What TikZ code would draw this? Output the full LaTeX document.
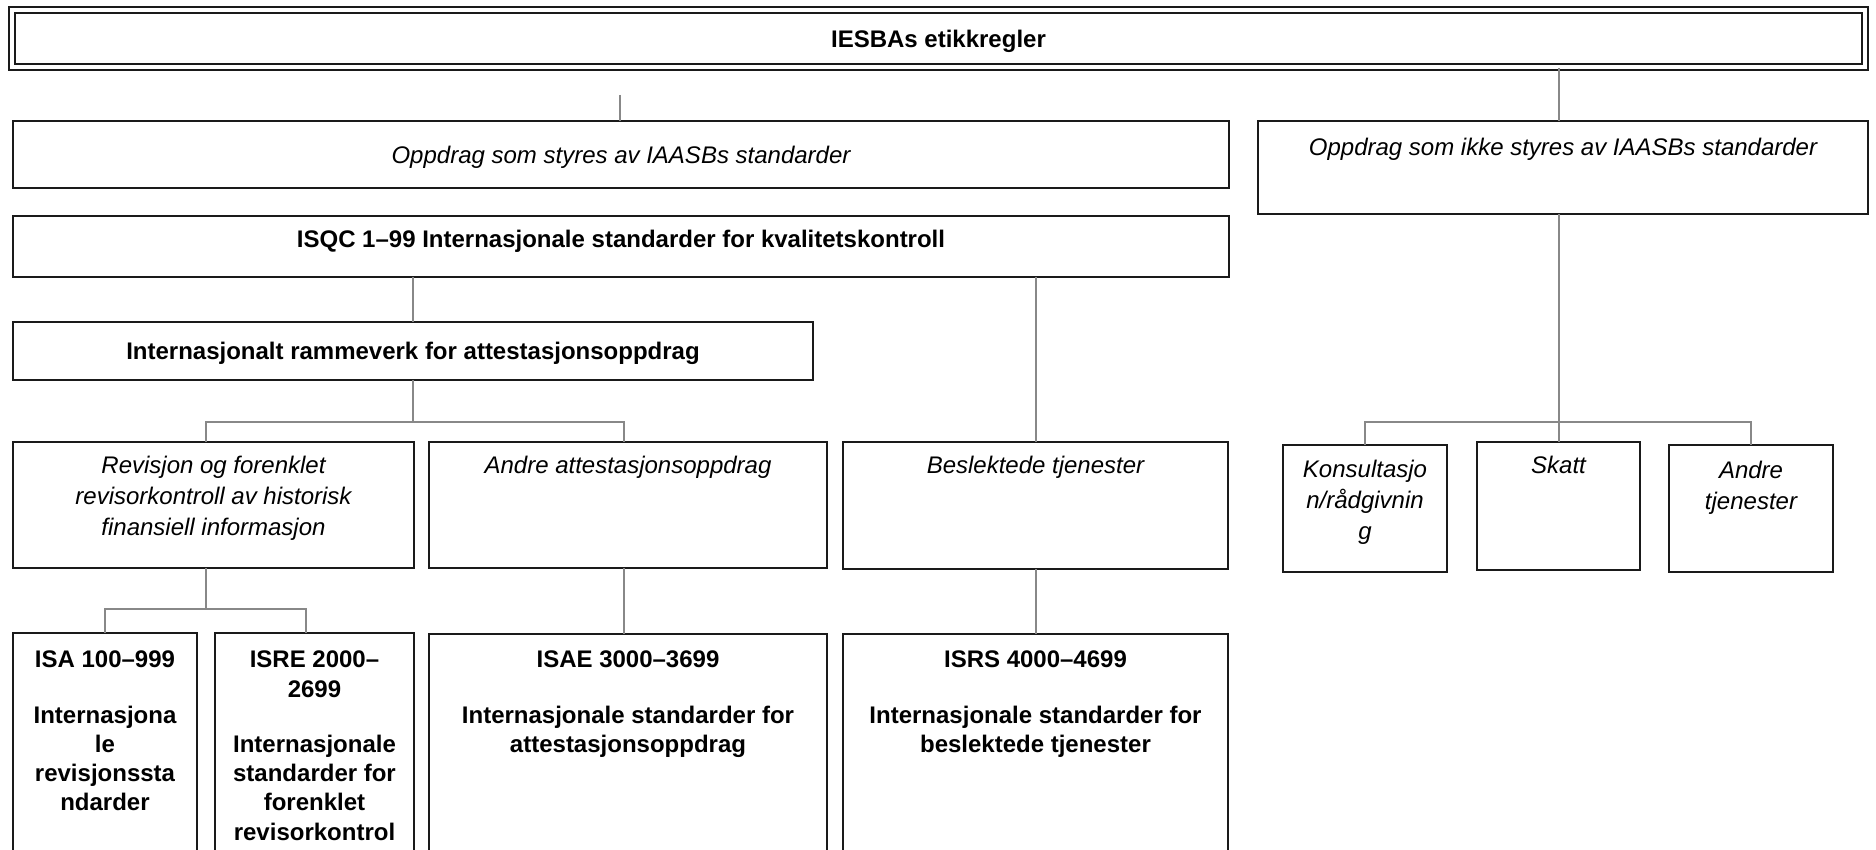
\documentclass[tikz,border=0pt]{standalone}
\usepackage{fontspec}
\setmainfont{Liberation Sans}
\definecolor{conngray}{RGB}{136,136,136}
\definecolor{boxblack}{RGB}{26,26,26}
\tikzset{
  box/.style={draw=boxblack, line width=2.2pt, rectangle, inner sep=0pt, outer sep=0pt},
  conn/.style={draw=conngray, line width=2pt},
  itxt/.style={font=\fontsize{24}{31}\selectfont\itshape, align=center, inner sep=0pt},
  btxt/.style={font=\fontsize{24}{29.3}\selectfont\bfseries, align=center, inner sep=0pt},
}
\begin{document}
\begin{tikzpicture}[x=1pt,y=-1pt]
\useasboundingbox (0,0) rectangle (1876,850);
\clip (0,0) rectangle (1876,850);
% top box
\node[draw=boxblack, double, double distance=3.6pt, line width=2.2pt, minimum width=1853pt, minimum height=57pt, inner sep=0pt] (top) at (938.5,38.5) {};
% boxes
\node[box, minimum width=1216pt, minimum height=67pt] (b1) at (621,154.5) {};
\node[box, minimum width=610pt, minimum height=93pt] (b2) at (1563,167.5) {};
\node[box, minimum width=1216pt, minimum height=61pt] (b3) at (621,246.5) {};
\node[box, minimum width=800pt, minimum height=58pt] (b4) at (413,351) {};
\node[box, minimum width=401pt, minimum height=126pt] (b5) at (213.5,505) {};
\node[box, minimum width=398pt, minimum height=126pt] (b6) at (628,505) {};
\node[box, minimum width=385pt, minimum height=127pt] (b7) at (1035.5,505.5) {};
\node[box, minimum width=164pt, minimum height=127pt] (b8) at (1365,508.5) {};
\node[box, minimum width=163pt, minimum height=128pt] (b9) at (1558.5,506) {};
\node[box, minimum width=164pt, minimum height=127pt] (b10) at (1751,508.5) {};
\node[box, minimum width=184pt, minimum height=267pt] (b11) at (105,766.5) {};
\node[box, minimum width=199pt, minimum height=267pt] (b12) at (314.5,766.5) {};
\node[box, minimum width=398pt, minimum height=266pt] (b13) at (628,767) {};
\node[box, minimum width=385pt, minimum height=266pt] (b14) at (1035.5,767) {};
% texts
\node[btxt, anchor=north] (t0) at (938.5,30) {IESBAs etikkregler};
\node[itxt, anchor=north] (t1) at (621,146) {Oppdrag som styres av IAASBs standarder};
\node[itxt, anchor=north] (t2) at (1563,138) {Oppdrag som ikke styres av IAASBs standarder};
\node[btxt, anchor=north] (t3) at (621,230) {ISQC 1--99 Internasjonale standarder for kvalitetskontroll};
\node[btxt, anchor=north] (t4) at (413,342) {Internasjonalt rammeverk for attestasjonsoppdrag};
\node[itxt, anchor=north] (t5) at (213.5,456) {Revisjon og forenklet\\revisorkontroll av historisk\\finansiell informasjon};
\node[itxt, anchor=north] (t6) at (628,456) {Andre attestasjonsoppdrag};
\node[itxt, anchor=north] (t7) at (1035.5,456) {Beslektede tjenester};
\node[itxt, anchor=north] (t8) at (1365,460) {Konsultasjo\\n/rådgivnin\\g};
\node[itxt, anchor=north] (t9) at (1558.5,456) {Skatt};
\node[itxt, anchor=north] (t10) at (1751,461) {Andre\\tjenester};
\node[btxt, anchor=north] (t11) at (105,651) {ISA 100--999\\~\\[-3.5pt]Internasjona\\le\\revisjonssta\\ndarder};
\node[btxt, anchor=north] (t12) at (314.5,651) {ISRE 2000--\\2699\\~\\[-3.5pt]Internasjonale\\standarder for\\forenklet\\revisorkontrol};
\node[btxt, anchor=north] (t13) at (628,651) {ISAE 3000--3699\\~\\[-3.5pt]Internasjonale standarder for\\attestasjonsoppdrag};
\node[btxt, anchor=north] (t14) at (1035.5,651) {ISRS 4000--4699\\~\\[-3.5pt]Internasjonale standarder for\\beslektede tjenester};
% connector helpers
\coordinate (c0) at (620,95);
\coordinate (h1) at (1558.5,422);
\coordinate (h2) at (413,422);
\coordinate (h3) at (206,609);
% connectors
\draw[conn] (c0) -- (c0 |- b1.north);
\draw[conn] (top.south -| b9.north) -- (b2.north -| b9.north);
\draw[conn] (b2.south -| b9.north) -- (b9.north);
\draw[conn] (b8.north) -- (b8.north |- h1) -- (b10.north |- h1) -- (b10.north);
\draw[conn] (b3.south -| b4.north) -- (b4.north);
\draw[conn] (b3.south -| b7.north) -- (b7.north);
\draw[conn] (b4.south) -- (h2);
\draw[conn] ([xshift=-7.5pt]b5.north) -- ([xshift=-7.5pt]b5.north |- h2) -- ([xshift=-4pt]b6.north |- h2) -- ([xshift=-4pt]b6.north);
\draw[conn] ([xshift=-7.5pt]b5.south) -- (h3);
\draw[conn] (b11.north) -- (b11.north |- h3) -- ([xshift=-8.5pt]b12.north |- h3) -- ([xshift=-8.5pt]b12.north);
\draw[conn] ([xshift=-4pt]b6.south) -- ([xshift=-4pt]b13.north);
\draw[conn] (b7.south) -- (b14.north);
\end{tikzpicture}
\end{document}
